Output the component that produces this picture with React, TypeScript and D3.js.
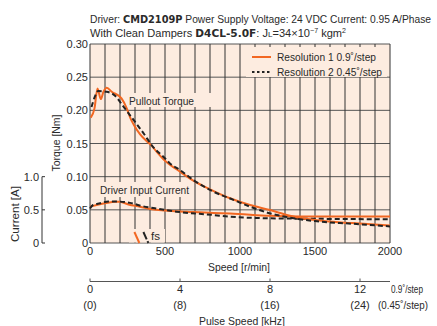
import React from "react";
import * as d3 from "d3";

const speedTicks = [0, 500, 1000, 1500, 2000];
const torqueTicks = [0, 0.05, 0.1, 0.15, 0.2, 0.25, 0.3];
const torqueTickLabels = ["0", "0.05", "0.10", "0.15", "0.20", "0.25", "0.30"];
const currentTicks = [0, 0.5, 1.0];
const currentTickLabels = ["0", "0.5", "1.0"];
const pulseTicks = [0, 4, 8, 12];
const pulseTickLabels2 = ["(0)", "(8)", "(16)", "(24)"];

// Pullout torque [speed r/min, torque N·m]
const pullout1: [number, number][] = [
  [5, 0.189], [30, 0.203], [50, 0.233], [72, 0.217], [90, 0.228], [112, 0.234],
  [145, 0.228], [210, 0.218], [245, 0.203], [270, 0.188], [290, 0.179], [333, 0.164],
  [400, 0.149], [500, 0.124], [600, 0.1075], [700, 0.0925], [790, 0.082], [933, 0.0674],
  [1067, 0.0573], [1200, 0.0497], [1333, 0.0412], [1500, 0.0345], [1750, 0.030], [2000, 0.0262],
];
const pullout2: [number, number][] = [
  [10, 0.205], [33, 0.221], [55, 0.229], [111, 0.228], [167, 0.222], [222, 0.206],
  [289, 0.186], [355, 0.166], [420, 0.145], [489, 0.130], [533, 0.12], [600, 0.110],
  [689, 0.095], [800, 0.080], [956, 0.065], [1067, 0.0548], [1200, 0.0447], [1300, 0.0397],
  [1500, 0.033], [1750, 0.029], [2000, 0.025],
];
// Driver input current [speed r/min, current A]
const current1: [number, number][] = [
  [0, 0.548], [100, 0.598], [170, 0.623], [200, 0.622], [256, 0.58], [333, 0.548],
  [411, 0.508], [500, 0.49], [644, 0.472], [822, 0.452], [933, 0.445], [1200, 0.41],
  [1400, 0.40], [2000, 0.40],
];
const current2: [number, number][] = [
  [0, 0.52], [20, 0.573], [67, 0.598], [122, 0.625], [178, 0.625], [267, 0.605],
  [344, 0.558], [433, 0.523], [578, 0.472], [822, 0.422], [933, 0.397], [1200, 0.372],
  [1500, 0.365], [2000, 0.357],
];
// fs markers [speed, torque]
const fs1: [number, number][] = [[296, 0.0166], [329, 0]];
const fs2: [number, number][] = [[356, 0.0166], [389, 0]];

const ORANGE = "#f26722";
const DARK = "#222";
const FONT = "'Liberation Sans', Arial, sans-serif";
const BOLD = "'DejaVu Sans', sans-serif";
const TXT = "#2a2a2a";

export default function App() {
  const W = 437, H = 326;
  const x = d3.scaleLinear().domain([0, 2000]).range([90, 390]);
  const y = d3.scaleLinear().domain([0, 0.3]).range([243, 44]);
  const yc = d3.scaleLinear().domain([0, 1]).range([243, y(0.1)]);
  const xp = d3.scaleLinear().domain([0, 2000 * 400 / 60 / 1000]).range([90, 390]);

  const lineT = d3.line<[number, number]>().x(d => x(d[0])).y(d => y(d[1])).curve(d3.curveMonotoneX);
  const lineC = d3.line<[number, number]>().x(d => x(d[0])).y(d => yc(d[1])).curve(d3.curveMonotoneX);
  const lineS = d3.line<[number, number]>().x(d => x(d[0])).y(d => y(d[1]));

  const vGrid = d3.range(0, 2001, 100);
  const fs = 11;
  const LA = "spacingAndGlyphs";
  const sx = 0.9;

  return (
    <svg width={W} height={H} style={{ position: "absolute", left: 0, top: 0 }} fontFamily={FONT}>
      <rect x={0} y={0} width={W} height={H} fill="#fff" />
      {/* title */}
      <g transform={`translate(90,0) scale(${sx},1)`}>
        <text x={0} y={23} fontSize={11} fill={TXT} textLength={341 / sx} lengthAdjust={LA}>
          Driver: <tspan fontFamily={BOLD} fontWeight="bold" fontSize={10.5}>CMD2109P</tspan> Power Supply Voltage: 24 VDC Current: 0.95 A/Phase
        </text>
        <text x={0} y={37} fontSize={11} fill={TXT} textLength={256 / sx} lengthAdjust={LA}>
          With Clean Dampers <tspan fontFamily={BOLD} fontWeight="bold" fontSize={10.5}>D4CL-5.0F</tspan>: J<tspan fontSize={8}>L</tspan>=34×10<tspan fontSize={7} dy={-4}>−7</tspan><tspan dy={4}> kgm</tspan><tspan fontSize={7} dy={-4}>2</tspan>
        </text>
      </g>

      {/* plot background */}
      <rect x={x(0)} y={y(0.3)} width={x(2000) - x(0)} height={y(0) - y(0.3)} fill="#fdece0" />
      {torqueTicks.map(t => (
        <line key={"h" + t} x1={x(0)} x2={x(2000)} y1={y(t)} y2={y(t)} stroke="#555" strokeWidth={1} />
      ))}
      {vGrid.map(v => (
        <line key={"v" + v} x1={x(v)} x2={x(v)} y1={y(0.3)} y2={y(0)} stroke="#333" strokeWidth={1} />
      ))}

      {/* label backgrounds */}
      <rect x={126} y={93} width={86} height={14} fill="#fdece0" />
      <rect x={97} y={182} width={95} height={15} fill="#fdece0" />
      <rect x={129} y={229} width={36} height={13.5} fill="#fdece0" />
      <rect x={246} y={47} width={141} height={30} fill="#fdece0" />

      {/* curves */}
      <path d={lineC(current1) || ""} fill="none" stroke={ORANGE} strokeWidth={2} />
      <path d={lineC(current2) || ""} fill="none" stroke={DARK} strokeWidth={2} strokeDasharray="5,3" />
      <path d={lineT(pullout1) || ""} fill="none" stroke={ORANGE} strokeWidth={2} />
      <path d={lineT(pullout2) || ""} fill="none" stroke={DARK} strokeWidth={2} strokeDasharray="5,3" />
      <path d={lineS(fs1) || ""} fill="none" stroke={ORANGE} strokeWidth={2} />
      <path d={lineS(fs2) || ""} fill="none" stroke={DARK} strokeWidth={2} strokeDasharray="8,2" />

      <text x={129} y={105} fontSize={fs} fill={TXT} textLength={65} lengthAdjust={LA}>Pullout Torque</text>
      <text x={100} y={194} fontSize={fs} fill={TXT} textLength={89} lengthAdjust={LA}>Driver Input Current</text>
      <text x={151} y={240} fontSize={fs} fill={TXT} textLength={9} lengthAdjust={LA}>fs</text>

      {/* legend */}
      <line x1={252} x2={271} y1={57} y2={57} stroke={ORANGE} strokeWidth={2} />
      <text x={277} y={61} fontSize={fs} fill={TXT} textLength={99} lengthAdjust={LA}>Resolution 1 0.9˚/step</text>
      <line x1={252} x2={271} y1={72} y2={72} stroke={DARK} strokeWidth={2} strokeDasharray="2.5,2.5" />
      <text x={277} y={76} fontSize={fs} fill={TXT} textLength={105} lengthAdjust={LA}>Resolution 2 0.45˚/step</text>

      {/* torque axis labels */}
      {torqueTicks.map((t, i) => (
        <text key={"tl" + t} x={88} y={y(t) + 4} fontSize={fs} textAnchor="end" fill={TXT}>{torqueTickLabels[i]}</text>
      ))}
      <text transform={`translate(60,143) rotate(-90)`} fontSize={fs} textAnchor="middle" fill={TXT} textLength={57} lengthAdjust={LA}>Torque [Nm]</text>

      {/* current axis */}
      <line x1={42} x2={42} y1={yc(1)} y2={yc(0)} stroke="#333" strokeWidth={1} />
      {currentTicks.map((c, i) => (
        <g key={"c" + c}>
          <line x1={42} x2={45} y1={yc(c)} y2={yc(c)} stroke="#333" strokeWidth={1} />
          <text x={39} y={yc(c) + 4} fontSize={fs} textAnchor="end" fill={TXT}>{currentTickLabels[i]}</text>
        </g>
      ))}
      <text transform={`translate(19,214) rotate(-90)`} fontSize={fs} textAnchor="middle" fill={TXT} textLength={56} lengthAdjust={LA}>Current [A]</text>

      {/* speed axis */}
      {speedTicks.map(s => (
        <text key={"s" + s} x={x(s)} y={255} fontSize={fs} textAnchor="middle" fill={TXT}>{s}</text>
      ))}
      <text x={239} y={271} fontSize={fs} textAnchor="middle" fill={TXT} textLength={62} lengthAdjust={LA}>Speed [r/min]</text>

      {/* pulse speed axis */}
      <line x1={xp(0)} x2={390} y1={281.5} y2={281.5} stroke="#555" strokeWidth={1.2} />
      {pulseTicks.map((p, i) => (
        <g key={"p" + p}>
          <line x1={xp(p)} x2={xp(p)} y1={281.5} y2={278.5} stroke="#555" strokeWidth={1} />
          <text x={xp(p)} y={293} fontSize={fs} textAnchor="middle" fill={TXT}>{p}</text>
          <text x={xp(p)} y={309} fontSize={fs} textAnchor="middle" fill={TXT}>{pulseTickLabels2[i]}</text>
        </g>
      ))}
      <text x={391} y={293} fontSize={fs} fill={TXT} textLength={32} lengthAdjust={LA}>0.9˚/step</text>
      <text x={378} y={309} fontSize={fs} fill={TXT} textLength={50} lengthAdjust={LA}>(0.45˚/step)</text>
      <text x={242} y={325} fontSize={fs} textAnchor="middle" fill={TXT} textLength={86} lengthAdjust={LA}>Pulse Speed [kHz]</text>
    </svg>
  );
}
